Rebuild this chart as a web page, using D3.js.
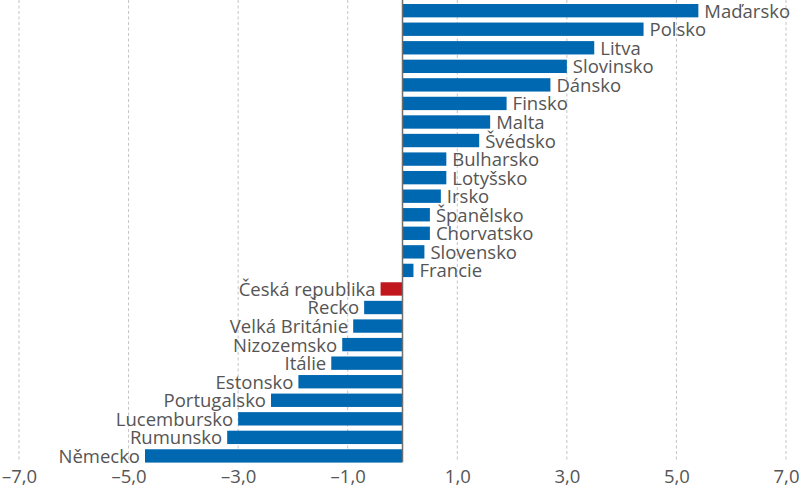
<!DOCTYPE html>
<html><head><meta charset="utf-8">
<script src="https://cdn.jsdelivr.net/npm/d3@7"></script>
<style>body{margin:0;background:#fff}svg{display:block}</style>
</head><body><svg id="c" width="800" height="492"></svg>
<script>
const countries = ["Maďarsko","Polsko","Litva","Slovinsko","Dánsko","Finsko","Malta","Švédsko","Bulharsko","Lotyšsko","Irsko","Španělsko","Chorvatsko","Slovensko","Francie","Česká republika","Řecko","Velká Británie","Nizozemsko","Itálie","Estonsko","Portugalsko","Lucembursko","Rumunsko","Německo"];
const values = [5.4,4.4,3.5,3.0,2.7,1.9,1.6,1.4,0.8,0.8,0.7,0.5,0.5,0.4,0.2,-0.4,-0.7,-0.9,-1.1,-1.3,-1.9,-2.4,-3.0,-3.2,-4.7];
const tickValues = [-7,-5,-3,-1,1,3,5,7];
const highlight = "Česká republika";

const svg = d3.select("#c");
const x = d3.scaleLinear().domain([-7,7]).range([19,786]);
const y = d3.scaleBand().domain(countries).range([1.4,465.2]).paddingInner(0.28).paddingOuter(0.14);
const fontFam = "'Open Sans', sans-serif";

// gridlines
svg.append("g").selectAll("line").data(tickValues).join("line")
  .attr("x1",d=>x(d)).attr("x2",d=>x(d)).attr("y1",0).attr("y2",462)
  .attr("stroke","#c4c4c4").attr("stroke-width",1).attr("stroke-dasharray","3,2.5");

// bars
const data = countries.map((c,i)=>({c, v: values[i]}));
svg.append("g").selectAll("rect").data(data).join("rect")
  .attr("x",d=>x(Math.min(0,d.v))).attr("width",d=>Math.abs(x(d.v)-x(0)))
  .attr("y",d=>y(d.c)).attr("height",y.bandwidth())
  .attr("fill",d=>d.c===highlight?"#c0161c":"#0067b1");

// labels
svg.append("g").selectAll("text").data(data).join("text")
  .attr("x",d=>d.v>=0 ? x(d.v)+6 : x(d.v)-5)
  .attr("y",d=>y(d.c)+y.bandwidth()+0.3)
  .attr("text-anchor",d=>d.v>=0?"start":"end")
  .attr("font-family",fontFam).attr("font-size",18.5).attr("fill","#555")
  .text(d=>d.c);

// zero line
svg.append("line").attr("x1",x(0)).attr("x2",x(0)).attr("y1",0).attr("y2",462)
  .attr("stroke","#6e6e6e").attr("stroke-width",1.5);

// x axis
const fmt = d => (d<0?"\u2013":"") + Math.abs(d).toFixed(1).replace(".",",");
const ax = svg.append("g").attr("transform","translate(0,462)")
  .call(d3.axisBottom(x).tickValues(tickValues).tickSize(0).tickFormat(fmt));
ax.select(".domain").remove();
ax.selectAll("text").attr("y",20.7).attr("dy",0)
  .attr("font-family",fontFam).attr("font-size",18.5).attr("fill","#555");
</script></body></html>
